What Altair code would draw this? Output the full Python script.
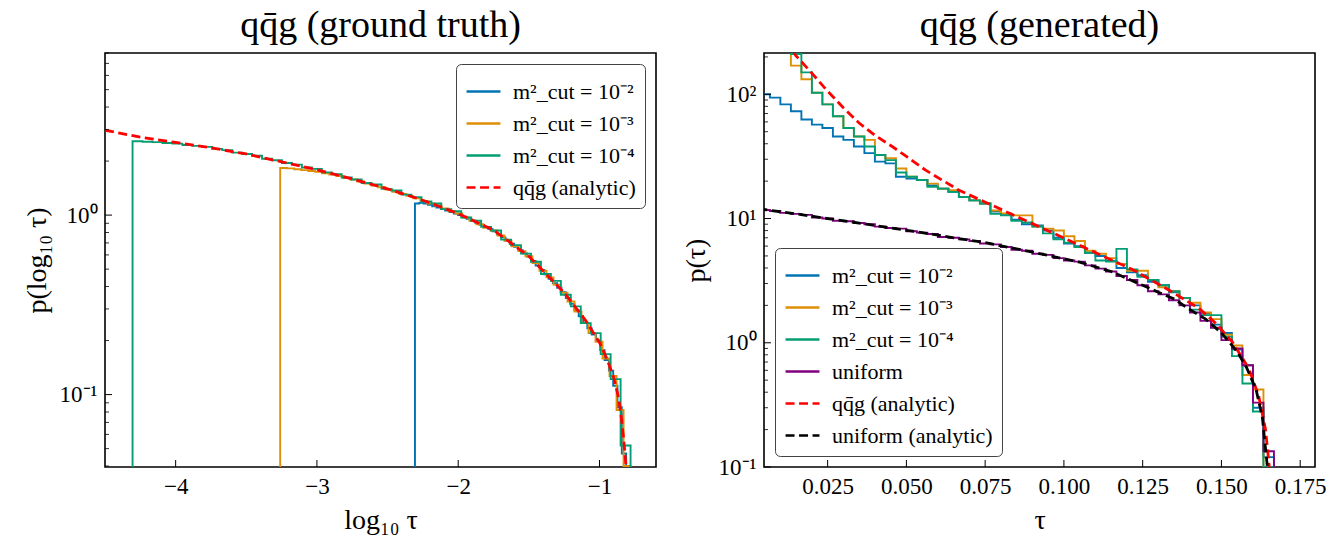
import altair as alt
import numpy as np
import pandas as pd

FONT = "Liberation Serif"
FLOOR = 1e-3

# ---------------- left panel: p(log10 tau), ground truth ----------------
L_SERIES = ["m²_cut = 10⁻²", "m²_cut = 10⁻³", "m²_cut = 10⁻⁴", "qq̄g (analytic)"]
L_COLORS = ["#0173b2", "#de8f05", "#029e73", "#ff0000"]

L_BLUE_START, L_BLUE_WIDTH = -2.306, 0.0305
L_BLUE = [1.16, 1.17, 1.16, 1.14, 1.12, 1.10, 1.08, 1.06, 1.04, 1.02,
          1.00, 0.98, 0.955, 0.93, 0.905, 0.882, 0.86, 0.838, 0.812, 0.782,
          0.751, 0.721, 0.693, 0.665, 0.638, 0.612, 0.587, 0.555, 0.524, 0.495,
          0.468, 0.442, 0.418, 0.394, 0.372, 0.345, 0.320, 0.295, 0.273, 0.252,
          0.234, 0.216, 0.200, 0.177, 0.156, 0.136, 0.112, 0.085, 0.047, 0.02]

L_ORANGE_START, L_ORANGE_WIDTH = -3.26, 0.0496
L_ORANGE = [1.83, 1.82, 1.80, 1.78, 1.76, 1.74, 1.71, 1.68, 1.65, 1.61,
            1.58, 1.54, 1.50, 1.46, 1.43, 1.39, 1.35, 1.31, 1.28, 1.24,
            1.20, 1.16, 1.13, 1.09, 1.05, 1.02, 0.97, 0.93, 0.89, 0.85,
            0.82, 0.77, 0.72, 0.67, 0.63, 0.59, 0.54, 0.49, 0.45, 0.41,
            0.37, 0.33, 0.29, 0.25, 0.22, 0.197, 0.159, 0.127, 0.082, 0.04]

L_GREEN_START, L_GREEN_WIDTH = -4.305, 0.0705
L_GREEN = [2.58, 2.56, 2.55, 2.52, 2.50, 2.46, 2.43, 2.40, 2.34, 2.30,
           2.23, 2.19, 2.14, 2.06, 2.02, 1.95, 1.91, 1.84, 1.81, 1.73,
           1.69, 1.62, 1.58, 1.51, 1.48, 1.40, 1.37, 1.30, 1.26, 1.19,
           1.16, 1.08, 1.05, 0.97, 0.93, 0.86, 0.82, 0.73, 0.68, 0.61,
           0.55, 0.47, 0.43, 0.36, 0.31, 0.25, 0.22, 0.168, 0.122, 0.052]

L_ANA_X = [-4.5, -4.25, -4.0, -3.75, -3.5, -3.25, -3.0, -2.75, -2.5, -2.25,
           -2.0, -1.75, -1.5, -1.25, -1.1, -1.0, -0.95, -0.9, -0.87, -0.85,
           -0.83, -0.81, -0.80]
L_ANA_Y = [2.97, 2.72, 2.54, 2.37, 2.19, 1.98, 1.79, 1.59, 1.40, 1.21,
           1.02, 0.825, 0.59, 0.37, 0.26, 0.195, 0.16, 0.125, 0.10, 0.08,
           0.058, 0.038, 0.025]

L_XTICKS = [-4, -3, -2, -1]
L_YMAJOR = [0.1, 1]
L_YMINOR = [0.04, 0.05, 0.06, 0.07, 0.08, 0.09,
            0.2, 0.3, 0.4, 0.5, 0.6, 0.7, 0.8, 0.9,
            2, 3, 4, 5, 6, 7, 8]

# ---------------- right panel: p(tau), generated ----------------
R_SERIES = ["m²_cut = 10⁻²", "m²_cut = 10⁻³", "m²_cut = 10⁻⁴", "uniform",
            "qq̄g (analytic)", "uniform (analytic)"]
R_COLORS = ["#0173b2", "#de8f05", "#029e73", "#800080", "#ff0000", "#000000"]

R_BIN_WIDTH = 1 / 300
R_BLUE_FIRST_BIN = 1
R_BLUE = [100, 94, 83, 73, 62.7, 57, 53.6, 45.8, 43, 38,
          33.6, 28.7, 27.8, 21.7, 21.0, 20.4, 18.5, 17.4, 16.4, 14.9,
          14.0, 13.2, 11.4,
          10.9, 9.8, 9.0, 8.8, 8.0, 7.0, 6.3, 6.0, 5.3, 5.0,
          4.55, 4.0, 3.7, 3.5, 3.1, 2.9, 2.55, 2.3, 2.0, 1.72,
          1.40, 1.20, 0.88, 0.66, 0.30, 0.12]
R_ORANGE = [900, 600, 400, 260,
            170, 132, 103, 83, 66.6, 53.6, 45.8, 43, 32.5, 30.6,
            25.3, 21.7, 20.4, 19.1, 17.4, 16.9, 14.9, 14.0, 13.2, 11.6,
            11.0, 10.6, 10.6, 8.6, 8.3, 8.0, 7.2, 6.6, 5.5, 5.2,
            4.8, 4.3, 3.8, 3.8, 3.2, 2.8, 2.6, 2.3, 2.1, 1.75,
            1.55, 1.16, 0.95, 0.55, 0.42, 0.10]
R_GREEN = [1500, 800, 450, 290,
           211, 150, 103, 83, 66.6, 53.6, 45.8, 38, 32.5, 29.5,
           23.5, 21.7, 20.4, 18.0, 17.4, 16.4, 14.9, 14.0, 13.2, 10.9,
           10.6, 9.6, 9.3, 8.6, 7.6, 6.8, 6.4, 5.9, 5.3, 4.6,
           4.5, 5.7, 3.9, 3.4, 3.2, 2.9, 2.6, 2.3, 1.85, 1.67,
           1.67, 1.12, 0.78, 0.47, 0.28, 0.10]
R_PURPLE = [12.0, 11.7, 11.5, 11.1, 10.9, 10.7, 10.2, 10.0, 9.6, 9.5,
            9.2, 9.0, 8.6, 8.4, 8.3, 7.9, 7.7, 7.5, 7.1, 7.0,
            6.8, 6.6, 6.3, 6.2, 5.9, 5.6, 5.5, 5.2, 5.1, 4.8,
            4.6, 4.5, 4.2, 3.95, 3.75, 3.45, 3.2, 2.9, 2.6, 2.45,
            2.2, 2.0, 1.75, 1.5, 1.32, 1.05, 0.9, 0.66, 0.33, 0.134]

R_RED_X = [0.0140, 0.0149, 0.0200, 0.0244, 0.0300, 0.0349, 0.0400, 0.0455,
           0.0500, 0.0561, 0.0667, 0.0772, 0.0878, 0.0984, 0.1111, 0.1216,
           0.1322, 0.1428, 0.1481, 0.1534, 0.1587, 0.1618, 0.1640, 0.1652,
           0.1660]
R_RED_Y = [222, 205, 148, 110, 78, 59, 46.8, 38.0,
           31.6, 24.5, 16.9, 12.8, 9.64, 7.28, 5.16, 3.90,
           2.76, 1.90, 1.44, 1.02, 0.62, 0.376, 0.20, 0.10,
           0.05]
R_BLACK_X = [0.0030, 0.0150, 0.0250, 0.0350, 0.0450, 0.0550, 0.0650, 0.0750,
             0.0850, 0.0950, 0.1050, 0.1150, 0.1250, 0.1300, 0.1350, 0.1400,
             0.1450, 0.1500, 0.1550, 0.1580, 0.1610, 0.1630, 0.1645, 0.1655]
R_BLACK_Y = [12.0, 10.9, 10.0, 9.2, 8.4, 7.7, 7.0, 6.4,
             5.7, 5.05, 4.45, 3.75, 2.9, 2.55, 2.25, 1.85,
             1.55, 1.2, 0.85, 0.63, 0.42, 0.25, 0.105, 0.05]

R_XTICKS = [0.025, 0.05, 0.075, 0.1, 0.125, 0.15, 0.175]
R_YMAJOR = [0.1, 1, 10, 100]
R_YMINOR = [0.2, 0.3, 0.4, 0.5, 0.6, 0.7, 0.8, 0.9,
            2, 3, 4, 5, 6, 7, 8, 9,
            20, 30, 40, 50, 60, 70, 80, 90, 200]

W, H = 551, 414


def steps(series, start, width, values):
    edges = start + width * np.arange(len(values) + 1)
    xs = [edges[0]] + list(edges[:-1]) + [edges[-1]]
    ys = [FLOOR] + list(values) + [FLOOR]
    return pd.DataFrame({"x": xs, "y": ys, "series": series, "i": np.arange(len(xs))})


def curve(series, xs, ys):
    return pd.DataFrame({"x": xs, "y": ys, "series": series, "i": np.arange(len(xs))})


def panel(hist_df, ana_df, series, colors, xdom, ydom, xticks, xfmt, ymajor, yminor,
          ylabel_expr, xtitle, ytitle, title, legend_orient):
    dashes = [[1, 0] if "analytic" not in s else [9, 4.5] for s in series]
    leg = alt.Legend(title=None, orient=legend_orient, offset=11, symbolType="stroke",
                     symbolSize=1150, symbolStrokeWidth=2.5, labelFont=FONT,
                     labelFontSize=22, labelColor="black", padding=9,
                     fillColor="white", strokeColor="#444444", cornerRadius=5,
                     rowPadding=2, labelOffset=11, labelLimit=400)
    xs = alt.Scale(domain=xdom, nice=False, zero=False)
    ys = alt.Scale(type="log", domain=ydom, nice=False)
    xenc = alt.X("x:Q", scale=xs,
                 axis=alt.Axis(values=xticks, format=xfmt, title=xtitle))
    yenc = alt.Y("y:Q", scale=ys,
                 axis=alt.Axis(values=ymajor, labelExpr=ylabel_expr, title=ytitle))
    cenc = alt.Color("series:N", scale=alt.Scale(domain=series, range=colors), legend=leg)
    denc = alt.StrokeDash("series:N", scale=alt.Scale(domain=series, range=dashes), legend=leg)

    hist = alt.Chart(hist_df).mark_line(interpolate="step-after", clip=True,
                                        strokeWidth=1.9).encode(
        x=xenc, y=yenc, color=cenc, strokeDash=denc, order="i:Q")
    ana = alt.Chart(ana_df).mark_line(clip=True, strokeWidth=2.8).encode(
        x="x:Q", y="y:Q", color=cenc, strokeDash=denc, order="i:Q")

    xt = alt.Chart(pd.DataFrame({"x": xticks})).mark_rule(color="black", strokeWidth=1).encode(
        x="x:Q", y=alt.value(H), y2=alt.value(H - 7))
    yt = alt.Chart(pd.DataFrame({"y": ymajor})).mark_rule(color="black", strokeWidth=1).encode(
        y="y:Q", x=alt.value(0), x2=alt.value(7))
    ym = alt.Chart(pd.DataFrame({"y": yminor})).mark_rule(color="black", strokeWidth=0.8).encode(
        y="y:Q", x=alt.value(0), x2=alt.value(4))

    return alt.layer(hist, ana, xt, yt, ym).properties(
        width=W, height=H,
        title=alt.TitleParams(text=title, font=FONT, fontSize=38, fontWeight="normal",
                              anchor="middle", frame="group", offset=8, color="black"))


l_hist = pd.concat([
    steps(L_SERIES[0], L_BLUE_START, L_BLUE_WIDTH, L_BLUE),
    steps(L_SERIES[1], L_ORANGE_START, L_ORANGE_WIDTH, L_ORANGE),
    steps(L_SERIES[2], L_GREEN_START, L_GREEN_WIDTH, L_GREEN),
], ignore_index=True)
l_ana = curve(L_SERIES[3], L_ANA_X, L_ANA_Y)

r_hist = pd.concat([
    steps(R_SERIES[0], R_BLUE_FIRST_BIN * R_BIN_WIDTH, R_BIN_WIDTH, R_BLUE),
    steps(R_SERIES[1], 0.0, R_BIN_WIDTH, R_ORANGE),
    steps(R_SERIES[2], 0.0, R_BIN_WIDTH, R_GREEN),
    steps(R_SERIES[3], 0.0, R_BIN_WIDTH, R_PURPLE),
], ignore_index=True)
r_ana = pd.concat([
    curve(R_SERIES[4], R_RED_X, R_RED_Y),
    curve(R_SERIES[5], R_BLACK_X, R_BLACK_Y),
], ignore_index=True)

left = panel(l_hist, l_ana, L_SERIES, L_COLORS, [-4.5, -0.6], [0.0395, 8.0],
             L_XTICKS, "d", L_YMAJOR, L_YMINOR,
             "datum.value >= 0.99 ? '10⁰' : '10⁻¹'",
             "log₁₀ τ", "p(log₁₀ τ)", "qq̄g (ground truth)", "top-right")
right = panel(r_hist, r_ana, R_SERIES, R_COLORS, [0.0048, 0.1797], [0.1, 215],
              R_XTICKS, ".3f", R_YMAJOR, R_YMINOR,
              "datum.value >= 99 ? '10²' : datum.value >= 9.9 ? '10¹' : datum.value >= 0.99 ? '10⁰' : '10⁻¹'",
              "τ", "p(τ)", "qq̄g (generated)", "bottom-left")

chart = alt.hconcat(left, right, spacing=24).resolve_scale(
    color="independent", strokeDash="independent"
).properties(
    padding={"left": 22, "top": 5, "right": 5, "bottom": 5}
).configure_view(
    stroke="black", strokeWidth=1.6
).configure_axis(
    labelFont=FONT, labelFontSize=23, labelColor="black",
    titleFont=FONT, titleFontSize=28, titleFontWeight="normal", titleColor="black",
    ticks=False, domain=False, grid=False, labelPadding=8, titlePadding=8
).configure_legend(
    labelFont=FONT, labelFontSize=22, labelColor="black"
)

chart.save("out.html", embed_options={"renderer": "svg", "actions": False})
